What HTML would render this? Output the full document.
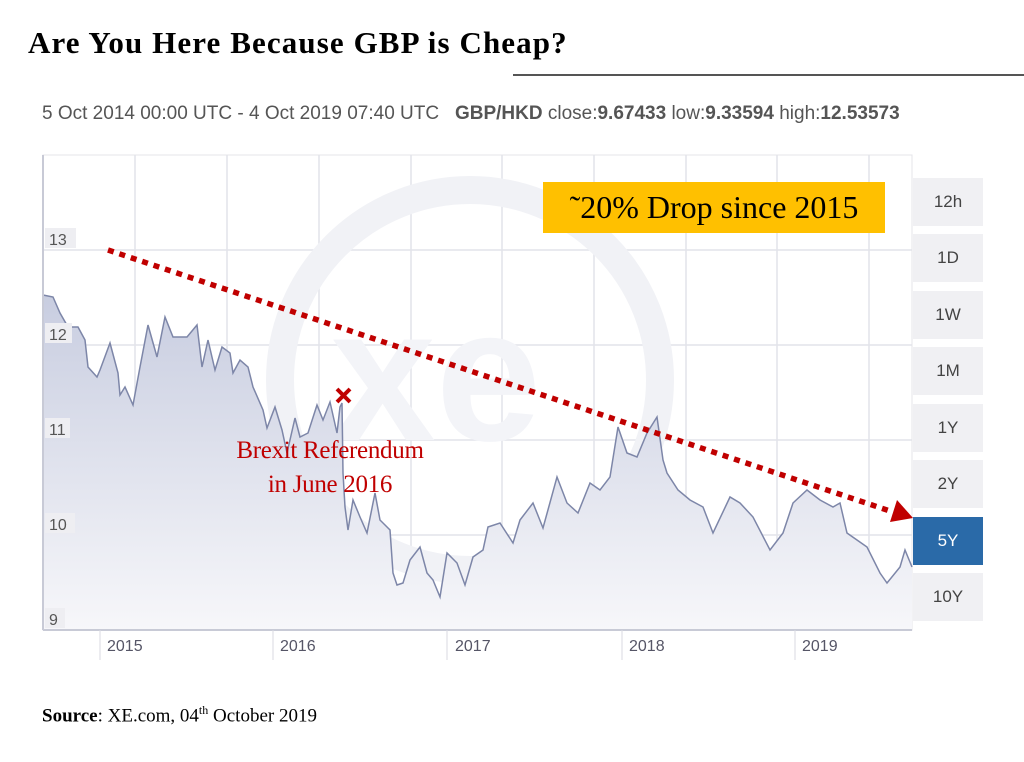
<!DOCTYPE html>
<html><head><meta charset="utf-8"><style>
body{margin:0;background:#fff;width:1024px;height:762px;overflow:hidden;position:relative;font-family:"Liberation Sans",sans-serif}
.t{position:absolute;white-space:nowrap}
.btn{position:absolute;left:913px;width:70px;height:48px;background:#f0f0f3;color:#444;font-size:17px;text-align:center;line-height:48px}
</style></head><body>
<div class="t" style="left:28px;top:25px;font-family:'Liberation Serif',serif;font-weight:bold;font-size:31px;letter-spacing:1.1px;color:#000">Are You Here Because GBP is Cheap?</div>
<div style="position:absolute;left:513px;top:74px;width:511px;height:2px;background:#555"></div>
<div class="t" style="left:42px;top:103px;font-size:19px;color:#555">5 Oct 2014 00:00 UTC - 4 Oct 2019 07:40 UTC &nbsp; <b style="color:#555">GBP/HKD</b> close:<b>9.67433</b> low:<b>9.33594</b> high:<b>12.53573</b></div>
<svg style="position:absolute;left:0;top:0" width="1024" height="762">
<defs><linearGradient id="g" x1="0" y1="0" x2="0" y2="1"><stop offset="0" stop-color="#c8cde0"/><stop offset="1" stop-color="#f7f7fa"/></linearGradient></defs>
<rect x="43" y="155" width="869" height="475" fill="#fff" stroke="#e4e4ea"/>
<g stroke="#e2e3ea" stroke-width="1.5">
<line x1="43" x2="912" y1="250" y2="250"/><line x1="43" x2="912" y1="345" y2="345"/><line x1="43" x2="912" y1="440" y2="440"/><line x1="43" x2="912" y1="535" y2="535"/>
<line x1="135" x2="135" y1="155" y2="630"/><line x1="227" x2="227" y1="155" y2="630"/><line x1="319" x2="319" y1="155" y2="630"/><line x1="411" x2="411" y1="155" y2="630"/><line x1="502" x2="502" y1="155" y2="630"/><line x1="594" x2="594" y1="155" y2="630"/><line x1="686" x2="686" y1="155" y2="630"/><line x1="777" x2="777" y1="155" y2="630"/><line x1="869" x2="869" y1="155" y2="630"/>
</g>
<g fill="none" stroke="#f1f2f6" stroke-width="28"><circle cx="470" cy="380" r="190"/></g>
<text x="330" y="440" font-size="190" fill="#f3f4f8" font-weight="bold">xe</text>
<polygon fill="url(#g)" points="43,295 53,297 60,313 68,327 78,327 85,340 88,367 97,377 100,370 110,343 118,373 120,395 125,387 133,405 140,367 148,325 157,357 165,317 173,337 187,337 197,325 202,367 208,340 215,370 222,347 230,353 233,373 240,360 248,367 253,387 263,410 267,428 275,407 282,430 287,453 295,418 300,437 308,433 317,405 323,420 330,402 337,433 340,407 342,403 343,473 345,507 348,530 353,500 360,517 367,533 375,493 380,520 390,530 393,573 397,585 403,583 410,560 420,547 427,573 433,580 440,597 447,553 457,563 465,585 473,557 483,550 488,527 500,523 513,543 520,520 533,503 543,528 557,477 567,503 578,513 590,483 600,490 610,477 618,427 627,453 637,457 647,433 657,417 663,460 667,473 678,490 690,500 703,507 713,533 730,497 740,503 753,517 770,550 783,533 793,503 807,490 820,500 833,507 840,503 847,533 867,547 880,573 887,583 900,567 905,550 912,567 912,630 43,630"/>
<polyline fill="none" stroke="#7d86a8" stroke-width="1.5" points="43,295 53,297 60,313 68,327 78,327 85,340 88,367 97,377 100,370 110,343 118,373 120,395 125,387 133,405 140,367 148,325 157,357 165,317 173,337 187,337 197,325 202,367 208,340 215,370 222,347 230,353 233,373 240,360 248,367 253,387 263,410 267,428 275,407 282,430 287,453 295,418 300,437 308,433 317,405 323,420 330,402 337,433 340,407 342,403 343,473 345,507 348,530 353,500 360,517 367,533 375,493 380,520 390,530 393,573 397,585 403,583 410,560 420,547 427,573 433,580 440,597 447,553 457,563 465,585 473,557 483,550 488,527 500,523 513,543 520,520 533,503 543,528 557,477 567,503 578,513 590,483 600,490 610,477 618,427 627,453 637,457 647,433 657,417 663,460 667,473 678,490 690,500 703,507 713,533 730,497 740,503 753,517 770,550 783,533 793,503 807,490 820,500 833,507 840,503 847,533 867,547 880,573 887,583 900,567 905,550 912,567"/>
<line x1="43" x2="912" y1="630" y2="630" stroke="#c8cad6" stroke-width="2"/>
<line x1="43" x2="43" y1="155" y2="630" stroke="#c8cad6" stroke-width="2"/>
<g stroke="#d8d9e2"><line x1="100" x2="100" y1="630" y2="660"/><line x1="273" x2="273" y1="630" y2="660"/><line x1="447" x2="447" y1="630" y2="660"/><line x1="622" x2="622" y1="630" y2="660"/><line x1="795" x2="795" y1="630" y2="660"/></g>
<g fill="#eeeef2"><rect x="45" y="228" width="31" height="20"/><rect x="45" y="323" width="27" height="20"/><rect x="45" y="418" width="25" height="20"/><rect x="45" y="513" width="30" height="20"/><rect x="45" y="608" width="20" height="20"/></g>
<g font-size="16" fill="#555"><text x="49" y="245">13</text><text x="49" y="340">12</text><text x="49" y="435">11</text><text x="49" y="530">10</text><text x="49" y="625">9</text></g>
<g font-size="16" fill="#556"><text x="107" y="651">2015</text><text x="280" y="651">2016</text><text x="455" y="651">2017</text><text x="629" y="651">2018</text><text x="802" y="651">2019</text></g>
<line x1="108" y1="250" x2="893" y2="512" stroke="#c00000" stroke-width="5.5" stroke-dasharray="6,6"/>
<polygon points="913,518 890,522 897,500" fill="#c00000"/>
<g stroke="#c00000" stroke-width="4"><line x1="337" y1="389" x2="350" y2="402"/><line x1="350" y1="389" x2="337" y2="402"/></g>
</svg>
<div class="t" style="left:200px;top:434px;width:260px;text-align:center;font-family:'Liberation Serif',serif;font-size:25px;line-height:34px;letter-spacing:-0.3px;color:#c00000">Brexit Referendum<br>in June 2016</div>
<div class="t" style="left:543px;top:182px;width:342px;height:51px;background:#ffc000;font-family:'Liberation Serif',serif;font-size:32px;line-height:51px;text-align:center;color:#000">˜20% Drop since 2015</div>
<div class="btn" style="top:178px">12h</div>
<div class="btn" style="top:234px">1D</div>
<div class="btn" style="top:291px">1W</div>
<div class="btn" style="top:347px">1M</div>
<div class="btn" style="top:404px">1Y</div>
<div class="btn" style="top:460px">2Y</div>
<div class="btn" style="top:517px;background:#2a6aa8;color:#fff">5Y</div>
<div class="btn" style="top:573px">10Y</div>
<div class="t" style="left:42px;top:703px;font-family:'Liberation Serif',serif;font-size:19px;color:#000"><b>Source</b>: XE.com, 04<sup style="font-size:12px">th</sup> October 2019</div>
</body></html>
